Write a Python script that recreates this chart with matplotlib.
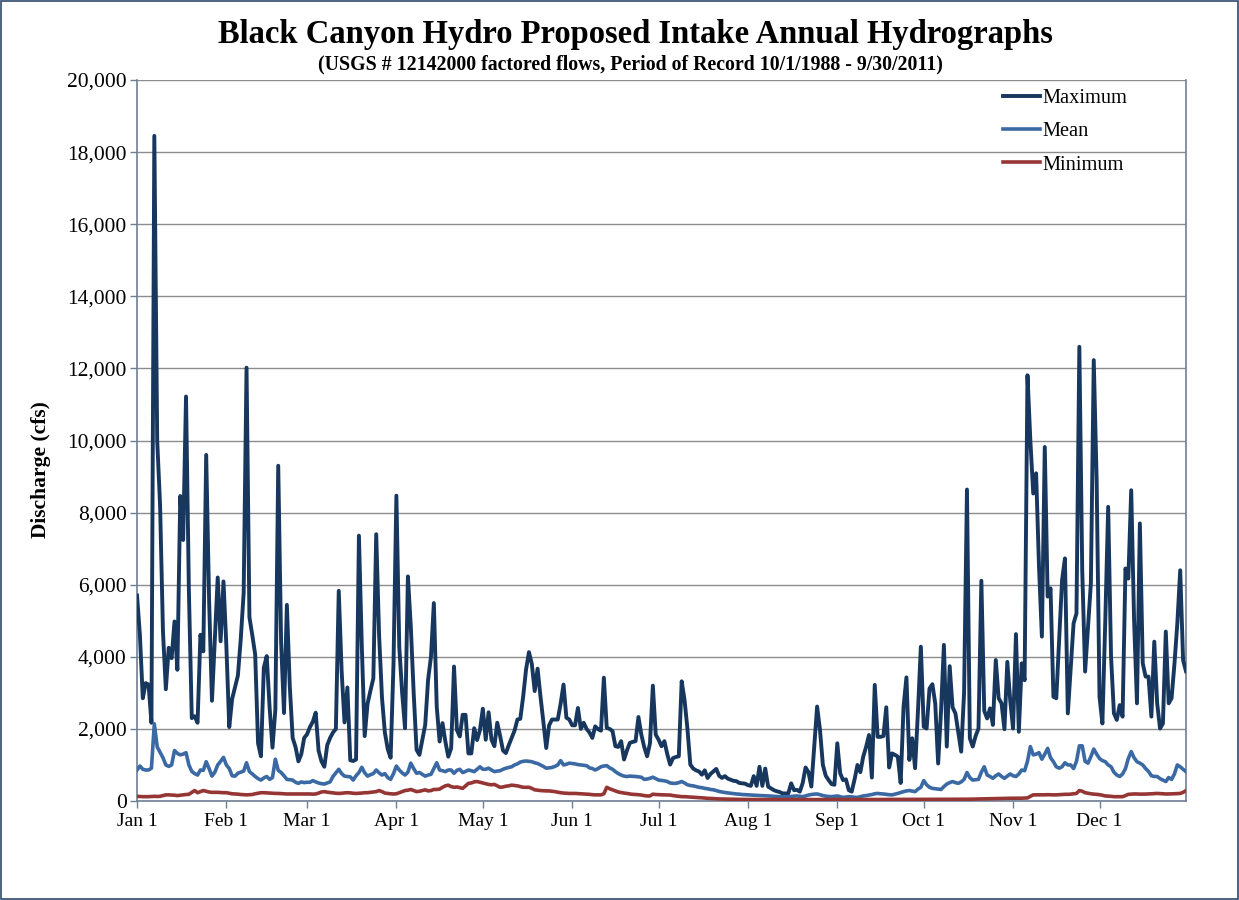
import numpy as np
import matplotlib
matplotlib.use("Agg")
import matplotlib.pyplot as plt
from matplotlib.patches import Rectangle

plt.rcParams["font.family"] = ["Liberation Serif", "DejaVu Serif"]

# Daily discharge (cfs), Jan 1 .. Dec 31, one row per month
max_flow = [
    5700, 4600, 2850, 3270, 3230, 2170, 18450, 10000, 8200, 4700, 3100, 4250, 3960, 4980, 3640, 8460, 7240, 11220, 5800, 2300, 2350, 2170, 4610, 4150, 9600, 5600, 2780, 4500, 6200, 4430, 6090,
    4300, 2050, 2830, 3150, 3480, 4500, 5770, 12020, 5100, 4600, 4065, 1600, 1240, 3700, 4020, 2600, 1480, 2530, 9300, 4400, 2440, 5440, 3200, 1750, 1500, 1100, 1300, 1750,
    1850, 2050, 2200, 2450, 1400, 1100, 950, 1550, 1750, 1900, 2000, 5830, 3600, 2180, 3150, 1130, 1110, 1150, 7360, 4300, 1800, 2700, 3060, 3400, 7400, 4600, 2870, 1900, 1440, 1200, 3800,
    8470, 4280, 3000, 2020, 6230, 4840, 3000, 1420, 1280, 1700, 2110, 3360, 4000, 5490, 2620, 1650, 2160, 1650, 1230, 1460, 3730, 1970, 1790, 2390, 2390, 1320, 1320, 2020, 1690, 1970,
    2560, 1700, 2460, 1700, 1520, 2170, 1800, 1400, 1330, 1550, 1750, 1950, 2260, 2280, 2900, 3650, 4130, 3800, 3050, 3670, 2900, 2200, 1470, 2100, 2260, 2260, 2260, 2700, 3230, 2310, 2260,
    2100, 2100, 2580, 2000, 2170, 2000, 1900, 1750, 2070, 1990, 1950, 3420, 2030, 2000, 1940, 1520, 1500, 1660, 1150, 1400, 1610, 1640, 1660, 2330, 1840, 1500, 1240, 1600, 3200, 1840,
    1700, 1520, 1660, 1300, 1010, 1190, 1220, 1240, 3320, 2800, 2000, 1010, 900, 850, 820, 730, 850, 640, 750, 820, 890, 700, 640, 690, 620, 590, 560, 550, 500, 490, 480,
    440, 420, 690, 420, 950, 420, 900, 400, 350, 300, 270, 250, 210, 210, 210, 490, 300, 310, 260, 500, 930, 800, 400, 1510, 2620, 1970, 1000, 700, 580, 470, 450,
    1600, 770, 580, 600, 300, 260, 600, 1000, 800, 1230, 1500, 1830, 650, 3220, 1780, 1780, 1800, 2600, 930, 1320, 1280, 1230, 500, 2620, 3430, 1140, 1740, 910, 2500, 4280,
    2060, 2010, 3120, 3240, 2700, 1040, 2500, 4330, 1510, 3740, 2600, 2430, 1900, 1370, 3000, 8640, 1740, 1510, 1800, 2010, 6110, 2500, 2290, 2570, 2110, 3910, 2850, 2710, 1990, 3860, 2800,
    2010, 4630, 1920, 3820, 3350, 11810, 10000, 8530, 9090, 6500, 4560, 9820, 5670, 5900, 2890, 2850, 4500, 6130, 6730, 2430, 3700, 4930, 5200, 12600, 6400, 3590, 4800, 6040, 12230, 8900,
    2890, 2150, 5000, 8160, 4000, 2430, 2250, 2660, 2340, 6450, 6170, 8620, 5000, 2710, 7700, 3820, 3450, 3450, 2340, 4420, 2710, 2010, 2150, 4700, 2710, 2850, 3800, 4930, 6400, 3910, 3600,
]

mean_flow = [
    860, 970, 880, 860, 860, 910, 2140, 1500, 1350, 1200, 1000, 960, 1000, 1400, 1320, 1280, 1300, 1340, 1000, 820, 760, 720, 860, 850, 1090, 900, 690, 800, 1000, 1100, 1210,
    1000, 900, 700, 690, 770, 800, 830, 1060, 815, 750, 680, 620, 580, 640, 680, 600, 650, 1160, 850, 790, 700, 600, 590, 580, 520, 490, 530, 510,
    520, 520, 565, 530, 500, 480, 470, 500, 530, 680, 780, 880, 760, 690, 680, 670, 580, 700, 790, 935, 780, 690, 730, 760, 860, 780, 720, 760, 650, 600, 760,
    970, 860, 780, 720, 800, 1050, 900, 770, 790, 740, 690, 720, 740, 900, 1060, 860, 840, 815, 860, 860, 770, 850, 880, 790, 820, 860, 840, 815, 880, 950,
    880, 880, 910, 860, 815, 830, 840, 880, 910, 930, 950, 1000, 1030, 1080, 1100, 1110, 1100, 1090, 1060, 1040, 1000, 960, 910, 920, 930, 960, 1000, 1120, 1000, 1020, 1050,
    1040, 1030, 1010, 1000, 990, 980, 920, 900, 860, 900, 950, 970, 980, 920, 880, 815, 760, 720, 690, 680, 690, 685, 680, 670, 660, 600, 610, 630, 660, 620,
    580, 570, 560, 540, 500, 490, 490, 510, 540, 500, 450, 430, 420, 400, 380, 370, 350, 340, 320, 310, 290, 265, 250, 235, 225, 215, 205, 195, 190, 180, 175,
    170, 165, 160, 155, 150, 148, 145, 140, 135, 130, 125, 120, 120, 120, 120, 125, 135, 140, 130, 120, 140, 165, 180, 190, 195, 175, 150, 135, 125, 120, 130,
    140, 120, 100, 110, 120, 115, 105, 100, 120, 140, 150, 165, 180, 200, 210, 200, 195, 185, 175, 170, 190, 210, 235, 260, 280, 290, 275, 260, 330, 380,
    565, 450, 380, 350, 340, 330, 320, 400, 470, 510, 540, 510, 490, 530, 600, 790, 650, 580, 590, 600, 800, 950, 720, 680, 630, 700, 750, 680, 630, 690, 750,
    700, 680, 750, 860, 840, 1100, 1510, 1280, 1300, 1340, 1160, 1300, 1460, 1200, 1090, 950, 910, 950, 1060, 1000, 1000, 900, 1100, 1530, 1530, 1100, 1050, 1230, 1440, 1300,
    1180, 1120, 1090, 1000, 950, 800, 720, 680, 750, 900, 1180, 1370, 1200, 1090, 1050, 1000, 900, 820, 700, 680, 680, 620, 580, 540, 650, 600, 750, 1000, 950, 880, 815,
]

min_flow = [
    130, 125, 120, 120, 120, 125, 130, 125, 130, 150, 170, 170, 165, 160, 150, 160, 170, 180, 185, 240, 290, 230, 260, 290, 270, 250, 240, 240, 240, 235, 230,
    230, 215, 200, 195, 190, 180, 175, 170, 175, 180, 200, 215, 230, 230, 225, 220, 215, 210, 210, 205, 200, 195, 195, 195, 195, 195, 195, 195,
    195, 195, 190, 195, 220, 250, 260, 245, 235, 225, 215, 210, 215, 225, 230, 225, 215, 210, 215, 220, 230, 230, 240, 250, 260, 290, 260, 220, 210, 200, 195,
    200, 230, 260, 290, 300, 320, 290, 260, 270, 290, 310, 280, 290, 320, 320, 330, 380, 420, 440, 400, 380, 390, 370, 350, 420, 490, 500, 530, 540, 520,
    500, 480, 460, 450, 460, 420, 380, 390, 410, 420, 440, 430, 420, 400, 380, 380, 380, 350, 310, 300, 290, 285, 280, 280, 270, 260, 245, 230, 220, 215, 210,
    210, 210, 205, 200, 195, 190, 185, 175, 170, 170, 170, 200, 380, 340, 310, 280, 250, 235, 220, 210, 195, 185, 180, 175, 165, 150, 140, 140, 190, 180,
    175, 172, 170, 170, 165, 150, 140, 130, 120, 120, 115, 110, 105, 100, 95, 88, 80, 75, 70, 65, 60, 57, 55, 52, 50, 48, 46, 45, 44, 43, 42,
    41, 40, 40, 39, 39, 38, 38, 38, 37, 37, 37, 36, 36, 36, 36, 36, 37, 37, 37, 38, 38, 38, 38, 38, 37, 37, 37, 37, 36, 36, 36,
    36, 36, 37, 37, 38, 38, 38, 38, 39, 39, 40, 40, 40, 41, 41, 42, 42, 42, 43, 43, 44, 44, 44, 45, 45, 45, 45, 46, 46, 46,
    46, 46, 46, 46, 47, 47, 47, 47, 48, 48, 48, 48, 48, 49, 49, 49, 50, 52, 55, 58, 60, 62, 64, 66, 68, 70, 72, 74, 75, 75, 76,
    76, 76, 78, 78, 80, 85, 130, 170, 170, 168, 170, 172, 175, 172, 170, 170, 175, 180, 185, 185, 190, 200, 210, 290, 270, 230, 215, 200, 190, 185,
    175, 160, 140, 135, 130, 120, 120, 118, 120, 150, 185, 190, 195, 195, 190, 190, 192, 195, 200, 205, 210, 205, 200, 195, 195, 198, 200, 205, 210, 240, 290,
]

month_labels = ["Jan 1", "Feb 1", "Mar 1", "Apr 1", "May 1", "Jun 1",
                "Jul 1", "Aug 1", "Sep 1", "Oct 1", "Nov 1", "Dec 1"]
month_start_day = [0, 31, 59, 90, 120, 151, 181, 212, 243, 273, 304, 334]

days = np.arange(len(max_flow))

fig = plt.figure(figsize=(12.39, 9.0), dpi=100)
fig.patch.set_facecolor("white")
ax = fig.add_axes([0.1106, 0.11, 0.8466, 0.8011])

ax.plot(days, max_flow, color="#17375E", lw=2.8, label="Maximum", solid_joinstyle="round", zorder=3)
ax.plot(days, mean_flow, color="#3A69A3", lw=2.6, label="Mean", solid_joinstyle="round", zorder=4)
ax.plot(days, min_flow, color="#963634", lw=2.6, label="Minimum", solid_joinstyle="round", zorder=5)

ax.set_xlim(0, len(max_flow) - 1)
ax.set_ylim(0, 20000)
ax.set_yticks(np.arange(0, 20001, 2000))
ax.yaxis.set_major_formatter(matplotlib.ticker.FuncFormatter(lambda v, p: f"{int(v):,}"))
ax.set_xticks(month_start_day)
ax.set_xticklabels(month_labels)

axis_col = "#6E7F93"
ax.grid(axis="y", color="#8C8C8C", lw=1.0, zorder=0)
ax.set_axisbelow(True)
for side in ["left", "bottom", "right"]:
    ax.spines[side].set_color(axis_col)
    ax.spines[side].set_linewidth(1.2)
ax.spines["top"].set_visible(False)
ax.tick_params(axis="both", direction="out", length=5, width=1, color=axis_col,
               labelcolor="black")
ax.tick_params(axis="x", labelsize=14, pad=4)
ax.tick_params(axis="y", labelsize=15.5, pad=2.5)

fig.text(0.513, 0.962, "Black Canyon Hydro Proposed Intake Annual Hydrographs",
         ha="center", va="center", fontsize=23.5, fontweight="bold")
fig.text(0.509, 0.928, "(USGS # 12142000 factored flows, Period of Record 10/1/1988 - 9/30/2011)",
         ha="center", va="center", fontsize=14.3, fontweight="bold")
fig.text(0.033, 0.478, "Discharge (cfs)", rotation=90, ha="center", va="center",
         fontsize=15.5, fontweight="bold")

leg = ax.legend(loc="upper left", bbox_to_anchor=(1003 / 1239, 1 - 89 / 900),
                bbox_transform=fig.transFigure, frameon=False, fontsize=14.7,
                handlelength=1.8, handletextpad=0.15, labelspacing=0.68,
                borderpad=0, borderaxespad=0)

fig.add_artist(Rectangle((0.0008, 0.0011), 0.9984, 0.9978, transform=fig.transFigure,
                         fill=False, edgecolor="#2E4A6B", lw=1.2))

fig.savefig("out.png", dpi=100, facecolor="white")
